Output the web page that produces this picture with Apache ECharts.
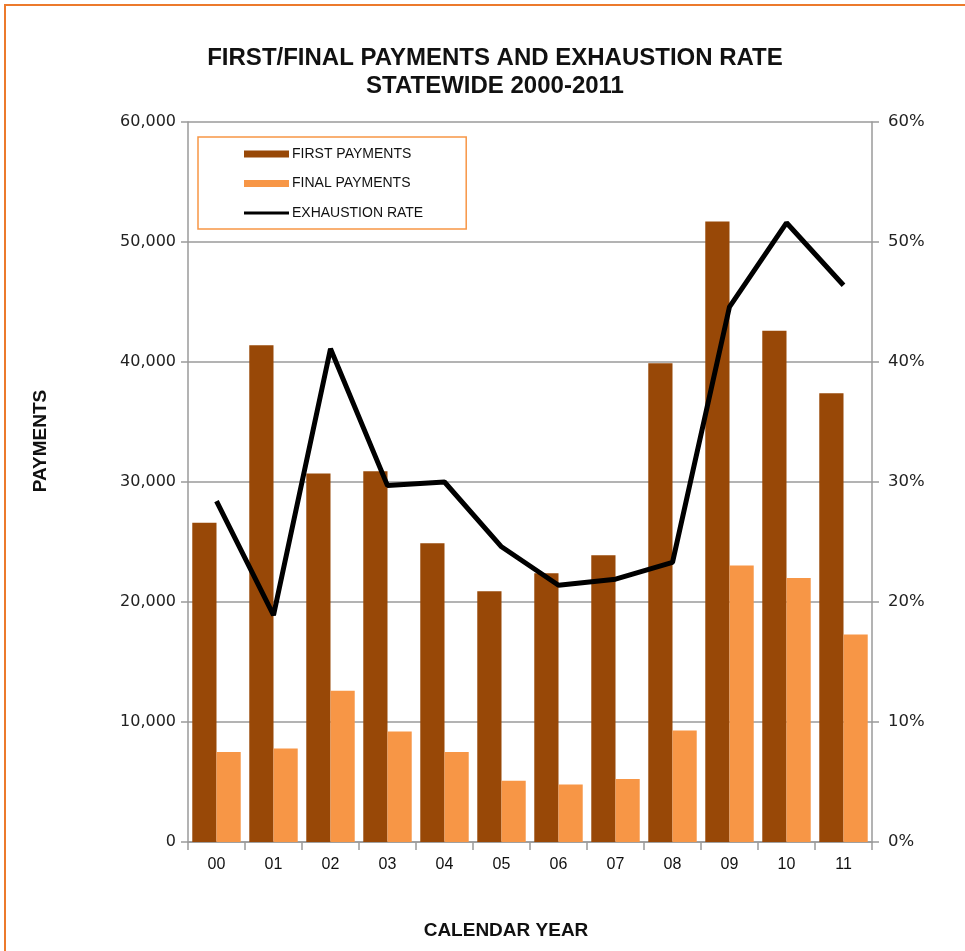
<!DOCTYPE html>
<html lang="en">
<head>
    <meta charset="UTF-8"/>
    <title>First/Final Payments and Exhaustion Rate</title>
    <script src="https://cdn.jsdelivr.net/npm/echarts@6/dist/echarts.min.js"></script>
    <style>
        html, body { margin: 0; padding: 0; background: #fff; }
        #chart { width: 965px; height: 951px; }
    </style>
</head>
<body>
    <div id="chart"></div>
    <script>
        // data
        const years = ['00', '01', '02', '03', '04', '05', '06', '07', '08', '09', '10', '11'];
        const firstPayments = [26600, 41400, 30700, 30900, 24900, 20900, 22400, 23900, 39900, 51700, 42600, 37400];
        const finalPayments = [7500, 7800, 12600, 9200, 7500, 5100, 4800, 5250, 9300, 23050, 22000, 17300];
        const exhaustionRate = [28.4, 18.9, 41.1, 29.7, 30.0, 24.6, 21.4, 21.9, 23.3, 44.6, 51.6, 46.4];
        const leftTicks = { min: 0, max: 60000, interval: 10000 };
        const rightTicks = { min: 0, max: 60, interval: 10 };

        const sans = '"Liberation Sans", Arial, sans-serif';
        const wide = '"DejaVu Sans", Verdana, sans-serif';
        const gridColor = '#9a9a9a';

        const chart = echarts.init(document.getElementById('chart'));
        chart.setOption({
            animation: false,
            backgroundColor: '#fff',
            title: {
                text: 'FIRST/FINAL PAYMENTS AND EXHAUSTION RATE\nSTATEWIDE 2000-2011',
                left: 490,
                top: 39,
                textAlign: 'center',
                textStyle: { fontFamily: sans, fontWeight: 'bold', fontSize: 24, lineHeight: 28, color: '#111' }
            },
            legend: {
                orient: 'vertical',
                left: 198,
                top: 137,
                backgroundColor: '#fff',
                borderColor: '#f79646',
                borderWidth: 1.5,
                padding: [10, 43, 9, 46],
                itemWidth: 45,
                itemHeight: 7,
                itemGap: 15.5,
                symbolKeepAspect: true,
                textStyle: { fontFamily: sans, fontSize: 14, color: '#111', padding: [0, 0, 0, -2] },
                data: [
                    { name: 'FIRST PAYMENTS', icon: 'rect' },
                    { name: 'FINAL PAYMENTS', icon: 'rect' },
                    { name: 'EXHAUSTION RATE', icon: 'path://M0,0 L45,0 L45,3 L0,3 Z' }
                ]
            },
            grid: { left: 188, right: 93, top: 122, bottom: 109 },
            xAxis: {
                type: 'category',
                data: years,
                name: 'CALENDAR YEAR',
                nameLocation: 'middle',
                nameGap: 79,
                nameTextStyle: { fontFamily: sans, fontWeight: 'bold', fontSize: 19, color: '#111', padding: [0, 48, 0, 0] },
                axisLine: { lineStyle: { color: gridColor, width: 1.5 } },
                axisTick: { show: true, length: 8, lineStyle: { color: gridColor, width: 1.5 } },
                axisLabel: { fontFamily: sans, fontSize: 16, color: '#111', margin: 15 }
            },
            yAxis: [
                {
                    type: 'value',
                    min: leftTicks.min,
                    max: leftTicks.max,
                    interval: leftTicks.interval,
                    name: 'PAYMENTS',
                    nameLocation: 'middle',
                    nameRotate: 90,
                    nameGap: 138,
                    nameTextStyle: { fontFamily: sans, fontWeight: 'bold', fontSize: 19, color: '#111', padding: [0, 0, 0, 82] },
                    axisLine: { show: true, lineStyle: { color: gridColor, width: 1.5 } },
                    axisTick: { show: true, length: 7, lineStyle: { color: gridColor, width: 1.5 } },
                    axisLabel: {
                        fontFamily: wide, fontSize: 16, color: '#222', margin: 12,
                        formatter: v => v.toLocaleString('en-US')
                    },
                    splitLine: { lineStyle: { color: gridColor, width: 1.5 } }
                },
                {
                    type: 'value',
                    min: rightTicks.min,
                    max: rightTicks.max,
                    interval: rightTicks.interval,
                    position: 'right',
                    axisLine: { show: true, lineStyle: { color: gridColor, width: 1.5 } },
                    axisTick: { show: true, length: 7, lineStyle: { color: gridColor, width: 1.5 } },
                    axisLabel: { fontFamily: wide, fontSize: 16.5, color: '#222', margin: 16, formatter: '{value}%' },
                    splitLine: { show: false }
                }
            ],
            series: [
                {
                    name: 'FIRST PAYMENTS',
                    type: 'bar',
                    data: firstPayments,
                    barGap: '0%',
                    barCategoryGap: '15%',
                    itemStyle: { color: '#984807' }
                },
                {
                    name: 'FINAL PAYMENTS',
                    type: 'bar',
                    data: finalPayments,
                    itemStyle: { color: '#f79646' }
                },
                {
                    name: 'EXHAUSTION RATE',
                    type: 'line',
                    yAxisIndex: 1,
                    data: exhaustionRate,
                    symbol: 'none',
                    lineStyle: { color: '#000', width: 5 },
                    itemStyle: { color: '#000' },
                    z: 5
                }
            ],
            graphic: [
                {
                    type: 'rect',
                    shape: { x: 5, y: 5, width: 1000, height: 1000 },
                    style: { fill: 'none', stroke: '#ec7a2c', lineWidth: 2 },
                    silent: true
                }
            ]
        });
    </script>
</body>
</html>
